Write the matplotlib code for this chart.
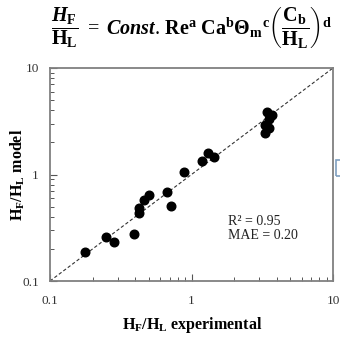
import matplotlib
matplotlib.use("Agg")
import matplotlib.pyplot as plt
from matplotlib.ticker import LogLocator, NullFormatter, FixedLocator, FixedFormatter
from matplotlib.patches import Rectangle

# data
hf_exp = [0.177, 0.249, 0.284, 0.390, 0.426, 0.426, 0.461, 0.497, 0.675, 0.713,
          0.889, 1.18, 1.31, 1.45, 3.43, 3.69, 3.55, 3.31, 3.55, 3.31]
hf_model = [0.186, 0.259, 0.234, 0.274, 0.484, 0.437, 0.579, 0.643, 0.681, 0.509,
            1.055, 1.34, 1.58, 1.47, 3.89, 3.62, 3.30, 2.92, 2.72, 2.47]
tick_vals = [0.1, 1, 10]
tick_labels = ["0.1", "1", "10"]
stats_text = "R² = 0.95\nMAE = 0.20"

plt.rcParams['mathtext.fontset'] = 'custom'
plt.rcParams['mathtext.rm'] = 'Liberation Serif'
plt.rcParams['mathtext.it'] = 'Liberation Serif:italic'
plt.rcParams['mathtext.bf'] = 'Liberation Serif:bold'
plt.rcParams['mathtext.bfit'] = 'Liberation Serif:bold:italic'

fig = plt.figure(figsize=(3.4, 3.38), dpi=100)
W, H = 340, 338
ax = fig.add_axes([50 / W, 1 - 281 / H, 283 / W, 213 / H])

ax.plot([0.1, 10], [0.1, 10], linestyle=(0, (3, 2)), color='#333333', linewidth=0.8, zorder=1)
ax.plot(hf_exp, hf_model, 'o', color='black', markersize=6.2, zorder=2)

ax.set_xscale('log')
ax.set_yscale('log')
ax.set_xlim(0.1, 10)
ax.set_ylim(0.1, 10)

for a in (ax.xaxis, ax.yaxis):
    a.set_major_locator(FixedLocator(tick_vals))
    a.set_major_formatter(FixedFormatter(tick_labels))
    a.set_minor_locator(LogLocator(base=10, subs=range(2, 10)))
    a.set_minor_formatter(NullFormatter())

ax.tick_params(which='major', direction='in', length=5, width=0.8, color='#555555',
               labelsize=9.5, labelcolor='#333333')
ax.tick_params(which='minor', direction='in', length=3, width=0.7, color='#555555')
ax.tick_params(axis='x', which='major', pad=10)
ax.tick_params(axis='y', which='major', pad=8)
for lab in ax.get_xticklabels() + ax.get_yticklabels():
    lab.set_family('Liberation Serif')

for s in ax.spines.values():
    s.set_color('#808080')
    s.set_linewidth(1.3)

ax.text(0.63, 0.31, stats_text, transform=ax.transAxes, fontsize=10,
        family='Liberation Serif', color='#222222', va='top', ha='left', linespacing=1.1)

ax.set_xlabel(r'$\mathbf{H_F/H_L}$ experimental', fontsize=11.5, fontweight='bold',
              family='Liberation Serif')
ax.set_ylabel(r'$\mathbf{H_F/H_L}$ model', fontsize=11.5, fontweight='bold',
              family='Liberation Serif')
ax.xaxis.set_label_coords((192 - 50) / 283, -(325 - 281) / 213)
ax.xaxis.label.set_va('center')
ax.yaxis.set_label_coords(-(50 - 18) / 283, (281 - 175) / 213)
ax.yaxis.label.set_va('center')

title = (r'$\dfrac{\mathbfit{H}_{\mathbf{F}}}{\mathbf{H_L}}\ =\ \mathbfit{Const}.\,'
         r'\mathbf{Re^a\ Ca^b \Theta_m{}^c}\left(\mathbf{\dfrac{C_b}{H_L}}\right)^{\mathbf{d}}$')
fig.text(192 / W, 1 - 28 / H, title, fontsize=14.5, ha='center', va='center')

fig.patches.append(Rectangle((336 / W, 1 - 176 / H), 10 / W, 16 / H, transform=fig.transFigure,
                             fill=False, edgecolor='#7f9fc0', linewidth=1.2))

fig.savefig('out.png', dpi=100)
